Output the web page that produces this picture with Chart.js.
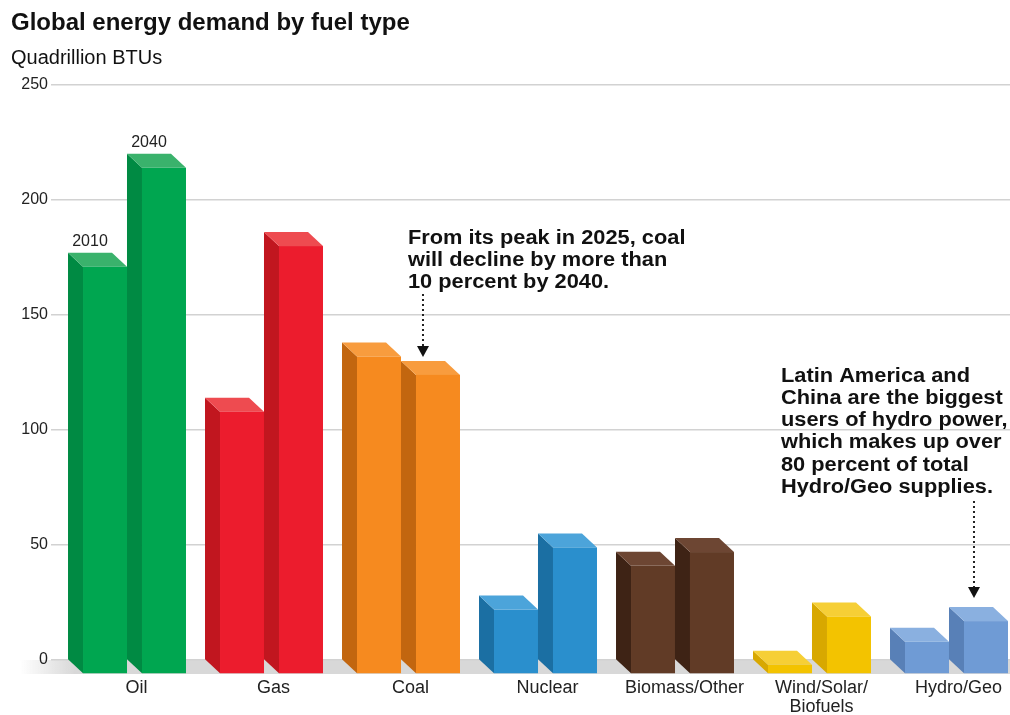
<!DOCTYPE html>
<html>
<head>
<meta charset="utf-8">
<script src="https://cdn.jsdelivr.net/npm/chart.js@4"></script>
<style>
  html, body { margin: 0; padding: 0; background: #fff; }
  canvas { display: block; }
</style>
</head>
<body>
<canvas id="grafico" width="1010" height="715"></canvas>
<script>
const combustiveis = ["Oil", "Gas", "Coal", "Nuclear", "Biomass/Other", ["Wind/Solar/", "Biofuels"], "Hydro/Geo"];
const anos = ["2010", "2040"];
const valores2010 = [177, 114, 138, 28, 47, 4, 14];
const valores2040 = [220, 186, 130, 55, 53, 25, 23];
const ticksY = [0, 50, 100, 150, 200, 250];

const notaCarvao = ["From its peak in 2025, coal", "will decline by more than", "10 percent by 2040."];
const notaHidro = ["Latin America and", "China are the biggest", "users of hydro power,", "which makes up over", "80 percent of total", "Hydro/Geo supplies."];

// frente, lado, topo
const cores = [
    ["#00a650", "#008a43", "#3ab26c"],
    ["#ec1c2d", "#c1161f", "#ee4b50"],
    ["#f68a1f", "#c2660f", "#f89c3e"],
    ["#2a8fcd", "#1b6fa3", "#4ca4da"],
    ["#613b26", "#3e2315", "#6d4633"],
    ["#f3c300", "#d8a800", "#f6cf36"],
    ["#6f9bd5", "#5880b7", "#8ab0e0"]
];

const DX = 15, DY = 14;
const FONTE = "'Liberation Sans', Arial, sans-serif";

function poligono(ctx, pts, cor) {
    ctx.beginPath();
    ctx.moveTo(pts[0][0], pts[0][1]);
    for (let i = 1; i < pts.length; i++) ctx.lineTo(pts[i][0], pts[i][1]);
    ctx.closePath();
    ctx.fillStyle = cor;
    ctx.fill();
}

function seta(ctx, x, yIni, yPonta) {
    ctx.save();
    ctx.strokeStyle = "#222";
    ctx.lineWidth = 2;
    ctx.setLineDash([2, 3]);
    ctx.beginPath();
    ctx.moveTo(x, yIni);
    ctx.lineTo(x, yPonta - 9);
    ctx.stroke();
    ctx.setLineDash([]);
    poligono(ctx, [[x - 6, yPonta - 11], [x + 6, yPonta - 11], [x, yPonta]], "#111");
    ctx.restore();
}

// o texto das notas é um pouco mais largo no original
function texto(ctx, linhas, x, y, passo) {
    ctx.save();
    ctx.font = "bold 20px " + FONTE;
    ctx.fillStyle = "#111";
    ctx.textBaseline = "middle";
    ctx.textAlign = "left";
    linhas.forEach((l, i) => {
        ctx.save();
        ctx.translate(x, y + i * passo);
        ctx.scale(1.09, 1);
        ctx.fillText(l, 0, 0);
        ctx.restore();
    });
    ctx.restore();
}

const barras3d = {
    id: "barras3d",
    beforeDraw(chart) {
        // faixa cinza do "chão" sob as barras
        const ctx = chart.ctx;
        const area = chart.chartArea;
        const base = chart.scales.y.getPixelForValue(0);
        ctx.save();
        const grad = ctx.createLinearGradient(20, 0, 75, 0);
        grad.addColorStop(0, "rgba(216,216,216,0)");
        grad.addColorStop(1, "rgba(216,216,216,1)");
        ctx.fillStyle = grad;
        ctx.fillRect(20, base, area.right - 20, DY);
        ctx.restore();
    },
    afterDatasetsDraw(chart) {
        const ctx = chart.ctx;
        for (let i = 0; i < chart.data.labels.length; i++) {
            for (let d = 0; d < chart.data.datasets.length; d++) {
                const bar = chart.getDatasetMeta(d).data[i];
                const [frente, lado, topo] = cores[i];
                const esq = bar.x - bar.width / 2;
                const dir = bar.x + bar.width / 2;
                poligono(ctx, [[esq, bar.y], [esq + DX, bar.y + DY], [esq + DX, bar.base + DY], [esq, bar.base]], lado);
                poligono(ctx, [[esq, bar.y], [dir, bar.y], [dir + DX, bar.y + DY], [esq + DX, bar.y + DY]], topo);
                ctx.fillStyle = frente;
                ctx.fillRect(esq + DX, bar.y + DY, bar.width, bar.base - bar.y);
            }
        }
        // rótulos dos anos sobre as barras de petróleo
        ctx.save();
        ctx.font = "16px " + FONTE;
        ctx.fillStyle = "#222";
        ctx.textAlign = "center";
        ctx.textBaseline = "middle";
        chart.data.datasets.forEach((ds, d) => {
            const bar = chart.getDatasetMeta(d).data[0];
            ctx.fillText(ds.label, bar.x, bar.y - 11);
        });
        ctx.restore();
    },
    afterDraw(chart) {
        const ctx = chart.ctx;
        const carvao = chart.getDatasetMeta(1).data[2];
        const hidro = chart.getDatasetMeta(1).data[6];
        texto(ctx, notaCarvao, 408, 238, 22);
        seta(ctx, carvao.x, 294, carvao.y - 4);
        texto(ctx, notaHidro, 781, 376, 22.3);
        seta(ctx, hidro.x + 3, 501, hidro.y - 9);
    }
};

const config = {
    type: "bar",
    data: {
        labels: combustiveis,
        datasets: [
            { label: anos[0], data: valores2010, backgroundColor: "rgba(0,0,0,0)" },
            { label: anos[1], data: valores2040, backgroundColor: "rgba(0,0,0,0)" }
        ]
    },
    options: {
        responsive: false,
        animation: false,
        events: [],
        categoryPercentage: 0.861,
        barPercentage: 0.746,
        layout: { padding: { left: 11, right: 0, top: 0, bottom: 0 } },
        plugins: {
            legend: { display: false },
            tooltip: { enabled: false },
            title: {
                display: true,
                text: "Global energy demand by fuel type",
                align: "start",
                color: "#111",
                font: { family: FONTE, size: 24, weight: "bold" },
                padding: { top: 9, bottom: 4 }
            },
            subtitle: {
                display: true,
                text: "Quadrillion BTUs",
                align: "start",
                color: "#111",
                font: { family: FONTE, size: 20 },
                padding: { top: 5, bottom: 14 }
            }
        },
        scales: {
            x: {
                grid: { display: false },
                border: { display: false },
                ticks: {
                    color: "#222",
                    font: { family: FONTE, size: 18, lineHeight: 1.05 },
                    padding: 11,
                    labelOffset: 17,
                    maxRotation: 0,
                    autoSkip: false
                },
                afterFit(scale) { scale.height = 55; }
            },
            y: {
                min: ticksY[0],
                max: ticksY[ticksY.length - 1],
                afterBuildTicks(scale) { scale.ticks = ticksY.map(v => ({ value: v })); },
                grid: { color: "#d2d2d2", lineWidth: 1.5, drawTicks: false },
                border: { display: false },
                ticks: {
                    color: "#222",
                    font: { family: FONTE, size: 16 },
                    padding: 3
                },
                afterFit(scale) { scale.width = 40; }
            }
        }
    },
    plugins: [barras3d]
};

new Chart(document.getElementById("grafico"), config);
</script>
</body>
</html>
